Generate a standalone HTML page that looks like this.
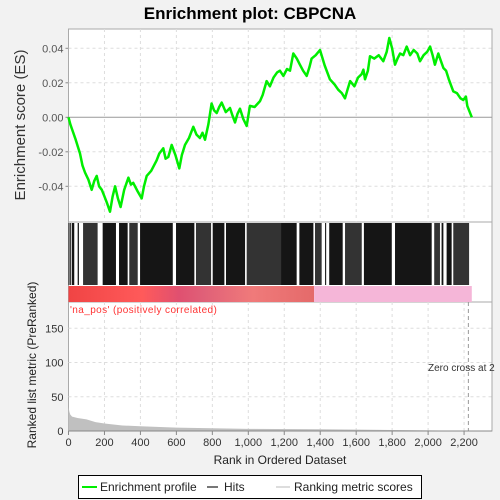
<!DOCTYPE html>
<html><head><meta charset="utf-8"><style>
body{margin:0;background:#f2f2f2;font-family:"Liberation Sans",sans-serif}
svg{display:block}
</style></head><body>
<svg id="c" width="500" height="500" xmlns="http://www.w3.org/2000/svg">
<text x="250" y="19" text-anchor="middle" font-size="17" font-weight="bold">Enrichment plot: CBPCNA</text>
</svg>
<script>
const esRanks=[0,10,20,40,64,78,92,110,129,143,157,170,185,200,215,231,245,259,275,290,310,333,347,360,385,407,420,435,460,490,505,527,540,555,574,595,616,630,648,670,694,712,731,745,759,778,796,810,824,838,852,875,898,912,926,940,954,972,991,1009,1035,1065,1080,1102,1120,1140,1160,1176,1195,1215,1232,1250,1270,1287,1305,1325,1340,1352,1375,1399,1425,1454,1480,1500,1520,1538,1552,1566,1590,1610,1630,1640,1649,1665,1677,1700,1725,1751,1770,1784,1800,1816,1830,1844,1862,1881,1900,1920,1940,1955,1975,1995,2011,2025,2038,2057,2070,2085,2100,2115,2140,2160,2180,2196,2210,2218,2243];
const esValues=[0,-0.004,-0.007,-0.013,-0.021,-0.028,-0.032,-0.036,-0.042,-0.037,-0.034,-0.040,-0.042,-0.046,-0.050,-0.0547,-0.046,-0.040,-0.047,-0.052,-0.042,-0.035,-0.039,-0.038,-0.043,-0.047,-0.040,-0.034,-0.031,-0.025,-0.021,-0.018,-0.024,-0.023,-0.016,-0.022,-0.0296,-0.022,-0.016,-0.012,-0.0055,-0.010,-0.012,-0.009,-0.013,-0.004,0.008,0.004,0.0025,0.006,0.0085,0.003,0.0054,0.001,-0.003,0.002,0.005,-0.001,-0.005,0.0066,0.006,0.0094,0.013,0.021,0.018,0.023,0.026,0.027,0.024,0.028,0.027,0.037,0.034,0.0305,0.027,0.024,0.029,0.034,0.036,0.039,0.030,0.022,0.019,0.016,0.014,0.011,0.016,0.021,0.018,0.023,0.025,0.0276,0.022,0.027,0.0354,0.034,0.036,0.0325,0.038,0.046,0.040,0.0305,0.034,0.037,0.036,0.041,0.036,0.039,0.037,0.0325,0.036,0.038,0.041,0.036,0.0305,0.037,0.033,0.0286,0.027,0.022,0.015,0.014,0.011,0.010,0.012,0.0066,0];
const hitBlocks=[[0,3],[8,12],[18,32],[51,58],[81,162],[190,264],[281,329],[338,385],[398,580],[598,700],[709,793],[802,867],[876,982],[991,1182],[1182,1269],[1284,1362],[1371,1408],[1427,1433],[1450,1525],[1538,1631],[1643,1798],[1816,2020],[2034,2066],[2075,2085],[2103,2131],[2140,2228]];
const metricRanks=[0,5,10,20,50,100,150,200,300,400,600,800,1000,1400,1800,2200,2243];
const metricValues=[35,28,24,21,19,17,13,11,8,7,5,4,3,2.5,1.5,0.5,0];
const xTicks=[0,200,400,600,800,1000,1200,1400,1600,1800,2000,2200];
const esTicks=[0.04,0.02,0.00,-0.02,-0.04];
const metricTicks=[0,50,100,150];
const totalRanks=2243, zeroCross=2224, posEnd=1366;

const NS="http://www.w3.org/2000/svg", svg=document.getElementById('c');
const L=68.5,R=492;
const xs=r=>L+r*0.1798;
const ys=v=>117.3-v*1725;
const ym=v=>431-v*0.685;
function el(t,a,p){const e=document.createElementNS(NS,t);for(const k in a)e.setAttribute(k,a[k]);(p||svg).appendChild(e);return e;}
function txt(s,a){const e=el('text',a);e.textContent=s;return e;}
let p1=el('rect',{x:L,y:29,width:R-L,height:193,fill:'#fff',stroke:'#aaa'});


let p2=el('rect',{x:L,y:222,width:R-L,height:80,fill:'#fff',stroke:'#aaa'});


let p3=el('rect',{x:L,y:302,width:R-L,height:129,fill:'#fff',stroke:'#aaa'});


xTicks.forEach(t=>{if(t===0)return;
 el('line',{x1:xs(t),x2:xs(t),y1:29,y2:222,stroke:'#ddd','stroke-dasharray':'3,3'});
 el('line',{x1:xs(t),x2:xs(t),y1:302,y2:431,stroke:'#ddd','stroke-dasharray':'3,3'});});
esTicks.forEach(t=>{if(t!==0)el('line',{x1:L,x2:R,y1:ys(t),y2:ys(t),stroke:'#ddd','stroke-dasharray':'3,3'});
 let lb=txt(t.toFixed(2),{x:L-5,y:ys(t)+4,'text-anchor':'end','font-size':11,fill:'#555'});
 
 
 el('line',{x1:L-3,x2:L,y1:ys(t),y2:ys(t),stroke:'#888'});});
el('line',{x1:L,x2:R,y1:ys(0),y2:ys(0),stroke:'#999'});
metricTicks.forEach(t=>{if(t!==0)el('line',{x1:L,x2:R,y1:ym(t),y2:ym(t),stroke:'#ddd','stroke-dasharray':'3,3'});
 let lb=txt(String(t),{x:L-5,y:ym(t)+4,'text-anchor':'end','font-size':11,fill:'#333'});
 
 });
let pts=esRanks.map((r,i)=>xs(r).toFixed(1)+','+ys(esValues[i]).toFixed(1)).join(' ');
let es=el('polyline',{points:pts,fill:'none',stroke:'#00ee00','stroke-width':2.5,'stroke-linejoin':'round'});


hitBlocks.forEach((b,i)=>{let w=Math.max(1,xs(b[1])-xs(b[0]));
 let h=el('rect',{x:xs(b[0]),y:223,width:w,height:62,fill:i%3===1?'#333':'#151515'});
 
 });
let g=el('defs',{});
let lg=el('linearGradient',{id:'rg',x1:0,x2:1,y1:0,y2:0},g);
[['0','#f04444'],['0.3','#ff5a5a'],['0.45','#e05070'],['0.55','#e06078'],['0.75','#f07a7a'],['1','#e46a6a']].forEach(s=>el('stop',{offset:s[0],'stop-color':s[1]},lg));
let cb1=el('rect',{x:L,y:286,width:xs(posEnd)-L,height:16,fill:'url(#rg)'});


let cb2=el('rect',{x:xs(posEnd),y:286,width:xs(totalRanks)-xs(posEnd),height:16,fill:'#f5b6d8'});


let ap='M'+xs(0)+','+ym(0)+' '+metricRanks.map((r,i)=>'L'+xs(r).toFixed(1)+','+ym(metricValues[i]).toFixed(1)).join(' ')+' L'+xs(totalRanks)+','+ym(0)+'Z';
let ar=el('path',{d:ap,fill:'#c0c0c0'});


let zc=el('line',{x1:xs(zeroCross),x2:xs(zeroCross),y1:302,y2:431,stroke:'#999','stroke-dasharray':'4,3'});


let zt=txt('Zero cross at 2',{x:428,y:371,'font-size':10,fill:'#333'});


let pl=txt("'na_pos' (positively correlated)",{x:70,y:313,'font-size':10,fill:'#ff3333','letter-spacing':'0.4'});


xTicks.forEach(t=>{el('line',{x1:xs(t),x2:xs(t),y1:431,y2:435,stroke:'#888'});
 let lb=txt(t.toLocaleString('en-US'),{x:xs(t),y:446,'text-anchor':'middle','font-size':11,fill:'#333'});
 
 });
el('line',{x1:L,x2:R,y1:431,y2:431,stroke:'#888'});
let xl=txt('Rank in Ordered Dataset',{x:280,y:464,'text-anchor':'middle','font-size':12,fill:'#222'});


let yl=txt('Enrichment score (ES)',{x:0,y:0,transform:'translate(25,125) rotate(-90)','text-anchor':'middle','font-size':15,fill:'#333'});


let yl2=txt('Ranked list metric (PreRanked)',{x:0,y:0,transform:'translate(36,365) rotate(-90)','text-anchor':'middle','font-size':12,fill:'#222'});


let lgd=el('g',{});


el('rect',{x:78.5,y:475.5,width:343,height:23,fill:'#fff',stroke:'#000'},lgd);
el('line',{x1:82,x2:97,y1:487,y2:487,stroke:'#00ee00','stroke-width':2},lgd);
let t1=txt('Enrichment profile',{x:100,y:491,'font-size':12,fill:'#222'});lgd.appendChild(t1);
el('line',{x1:207,x2:218,y1:487,y2:487,stroke:'#777','stroke-width':2},lgd);
let t2=txt('Hits',{x:224,y:491,'font-size':12,fill:'#222'});lgd.appendChild(t2);
el('line',{x1:276,x2:290,y1:487,y2:487,stroke:'#ddd','stroke-width':2},lgd);
let t3=txt('Ranking metric scores',{x:294,y:491,'font-size':12,fill:'#222'});lgd.appendChild(t3);
</script>
</body></html>
